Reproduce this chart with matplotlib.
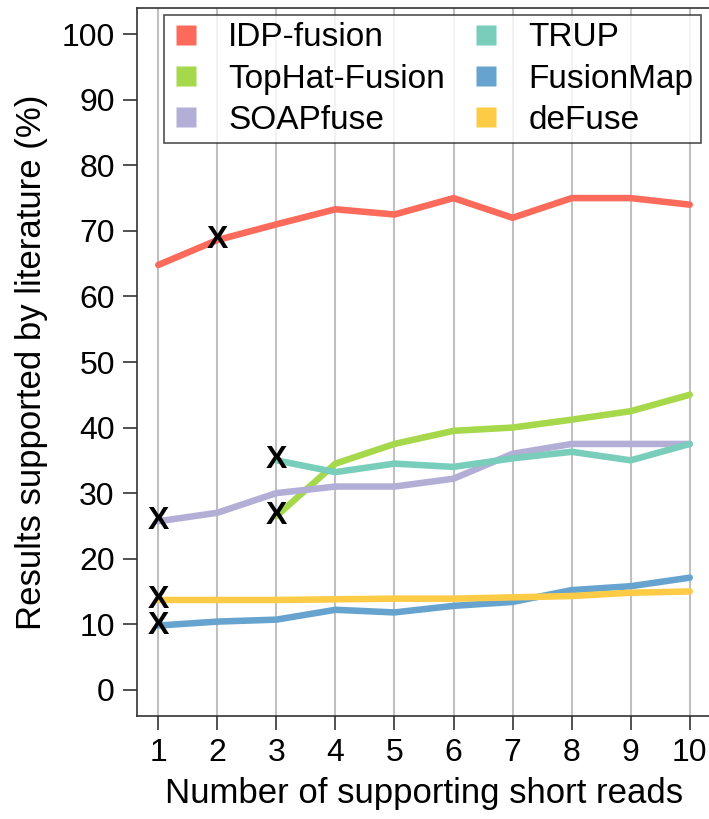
import numpy as np
import matplotlib.pyplot as plt
from matplotlib.lines import Line2D

plt.rcParams['font.family'] = ['Liberation Sans', 'DejaVu Sans']

reads = [1, 2, 3, 4, 5, 6, 7, 8, 9, 10]
idp = [64.8, 68.6, 71.0, 73.3, 72.5, 75.0, 72.0, 75.0, 75.0, 74.0]
tophat = [None, None, 26.5, 34.5, 37.5, 39.5, 40.0, 41.2, 42.5, 45.0]
soap = [25.7, 27.0, 30.0, 31.0, 31.0, 32.2, 36.0, 37.5, 37.5, 37.5]
trup = [None, None, 35.0, 33.2, 34.5, 34.0, 35.3, 36.3, 35.0, 37.5]
fmap = [9.8, 10.4, 10.7, 12.2, 11.8, 12.8, 13.4, 15.2, 15.8, 17.1]
defuse = [13.7, 13.7, 13.7, 13.8, 13.9, 13.9, 14.1, 14.3, 14.8, 15.0]

names = ['IDP-fusion', 'TopHat-Fusion', 'SOAPfuse', 'TRUP', 'FusionMap', 'deFuse']
series = [idp, tophat, soap, trup, fmap, defuse]
colors = ['#FB6A5A', '#A6D84B', '#B3AED6', '#79CDBB', '#66A3CE', '#FDCB45']
# where the "X" marks sit (index into reads)
marks = [(idp, 1), (tophat, 2), (soap, 0), (trup, 2), (fmap, 0), (defuse, 0)]

W, H = 709, 819
fig = plt.figure(figsize=(W / 100, H / 100), dpi=100)
ax = fig.add_axes([137 / W, (H - 716) / H, (711 - 137) / W, (716 - 8) / H])

for s, c in zip(series, colors):
    y = np.array([np.nan if v is None else v for v in s])
    ax.plot(reads, y, color=c, lw=4.7, solid_capstyle='round', zorder=3)

for s, i in marks:
    ax.text(reads[i], s[i], 'X', fontsize=23, fontweight='bold',
            ha='center', va='center', zorder=5)

ax.set_xlim(0.64, 10.36)
ax.set_ylim(-4, 104)
ax.set_xticks(reads)
ax.set_yticks(range(0, 101, 10))
ax.grid(axis='x', color='#C0C0C0', lw=1.5, zorder=0)
for sp in ax.spines.values():
    sp.set_color('#333333')
    sp.set_linewidth(1.2)
ax.tick_params(axis='both', length=10, width=1.2, color='#333333',
               labelsize=23, pad=6)
ax.set_xlabel('Number of supporting short reads', fontsize=25, labelpad=6)
ax.set_ylabel('Results supported by literature (%)', fontsize=25, labelpad=10)

handles = [Line2D([], [], ls='none', marker='s', markersize=15,
                  markerfacecolor=c, markeredgecolor='none') for c in colors]
# column-wise order like R legend with ncol=2
leg = ax.legend(handles, names, ncol=2, fontsize=24, mode='expand',
                loc='upper left',
                bbox_to_anchor=(164 / W, 1 - 15 / H, (701 - 164) / W, 0.0),
                bbox_transform=fig.transFigure, borderaxespad=0,
                frameon=True, fancybox=False, edgecolor='#222222',
                borderpad=0.22, labelspacing=0.31, handlelength=0.85,
                handletextpad=0.85, columnspacing=0.9)
leg.get_frame().set_linewidth(1.2)
leg.set_zorder(6)

fig.savefig('out.png', dpi=100)
